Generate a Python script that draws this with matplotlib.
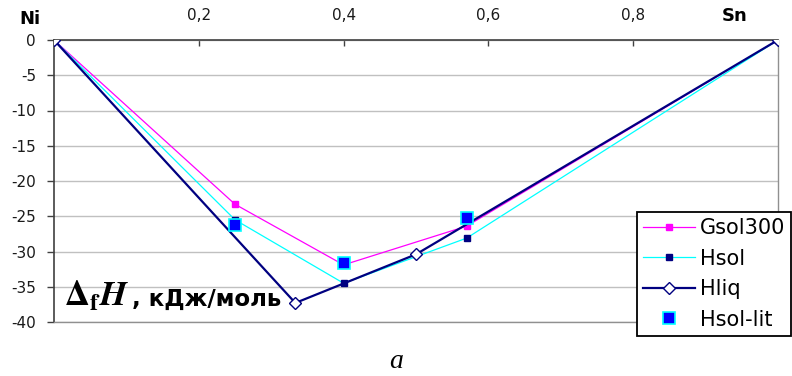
import matplotlib.pyplot as plt

'''
  Enthalpy of formation in the Ni-Sn system
'''

plt.rcParams['axes.unicode_minus'] = False
plt.rcParams['mathtext.fontset'] = 'stix'

# composition (mole fraction of Sn) and values, kJ/mol
x_gsol = [0, 0.25, 0.4, 0.57, 1]
gsol300 = [0, -23.3, -31.9, -26.4, 0]

x_hsol = [0, 0.25, 0.4, 0.57, 1]
hsol = [0, -25.5, -34.5, -28.1, 0]

x_hliq = [0, 1/3, 0.5, 1]
hliq = [0, -37.3, -30.4, 0]

x_lit = [0.25, 0.4, 0.57]
hsol_lit = [-26.2, -31.7, -25.3]

x_ticks = [0.2, 0.4, 0.6, 0.8]
x_ticklabels = ['0,2', '0,4', '0,6', '0,8']
y_ticks = [0, -5, -10, -15, -20, -25, -30, -35, -40]

W, H = 792, 376
fig = plt.figure(figsize=(W / 100, H / 100), dpi=100)
ax = fig.add_axes([54 / W, 1 - 322 / H, (778 - 54) / W, (322 - 40) / H])

ax.plot(x_gsol, gsol300, color='#ff00ff', lw=0.9, marker='s', ms=4.5,
        mfc='#ff00ff', mec='#ff00ff', label='Gsol300', zorder=3)
ax.plot(x_hsol, hsol, color='#00ffff', lw=0.9, marker='s', ms=4,
        mfc='#000080', mec='#000080', label='Hsol', zorder=3)
ax.plot(x_hliq, hliq, color='#000080', lw=1.6, marker='D', ms=6.5,
        mfc='white', mec='#000080', mew=1, label='Hliq', zorder=4)
ax.plot(x_lit, hsol_lit, ls='none', marker='s', ms=9, mfc='#0000ff',
        mec='#00ffff', mew=1.2, label='Hsol-lit', zorder=5)

ax.set_xlim(0, 1)
ax.set_ylim(-40, 0)
ax.set_xticks(x_ticks)
ax.set_xticklabels(x_ticklabels)
ax.set_yticks(y_ticks)
ax.xaxis.tick_top()
ax.tick_params(axis='x', direction='in', length=4, width=1, color='#404040',
               pad=12, labelsize=11, labelcolor='#1a1a1a')
ax.tick_params(axis='y', direction='out', length=5, width=1, color='#404040',
               pad=8, labelsize=11, labelcolor='#1a1a1a')
ax.yaxis.grid(True, color='#c0c0c0', lw=1)
ax.set_axisbelow(True)
for s in ['top', 'left']:
    ax.spines[s].set_color('#404040')
    ax.spines[s].set_linewidth(1.2)
for s in ['bottom', 'right']:
    ax.spines[s].set_color('#909090')
    ax.spines[s].set_linewidth(1)

fig.text(30 / W, 1 - 19 / H, 'Ni', fontsize=13, fontweight='bold',
         ha='center', va='center')
fig.text(735 / W, 1 - 16 / H, 'Sn', fontsize=13, fontweight='bold',
         ha='center', va='center')

fig.text(64 / W, 1 - 306 / H, r'$\mathbf{\Delta_f}\mathbfit{H}$',
         fontsize=25, va='baseline', ha='left')
fig.text(132 / W, 1 - 306 / H, ', кДж/моль', fontsize=16.5,
         fontweight='bold', va='baseline', ha='left')

fig.text(396 / W, 1 - 362 / H, 'а', fontsize=20, family='Liberation Serif',
         style='italic', ha='center', va='center')

leg = fig.legend(loc='upper left', bbox_to_anchor=(637 / W, 1 - 212 / H),
                 fontsize=15, frameon=True, fancybox=False, edgecolor='black',
                 framealpha=1, borderpad=0.3, labelspacing=0.5,
                 handlelength=2.5, handletextpad=0.2, borderaxespad=0)
leg.get_frame().set_linewidth(1.3)

fig.savefig('out.png', dpi=100)
